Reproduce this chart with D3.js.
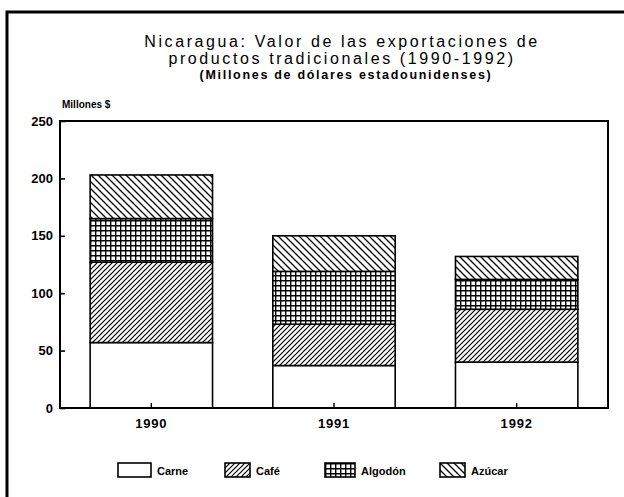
<!DOCTYPE html>
<html>
<head>
<meta charset="utf-8">
<script src="https://cdn.jsdelivr.net/npm/d3@7"></script>
<style>
  body { margin: 0; background: #fff; }
  svg { display: block; }
  text { fill: #000; }
</style>
</head>
<body>
<svg id="chart" width="624" height="497"></svg>
<script>
// datos
const years = ["1990", "1991", "1992"]
const series = ["Carne", "Café", "Algodón", "Azúcar"]
const carne = [57, 37, 40]
const cafe = [70, 36, 46]
const algodon = [38, 46, 26]
const azucar = [38, 31, 20]
const yTicks = [0, 50, 100, 150, 200, 250]

let width = 624
let height = 497
let margin = { top: 121, right: 16, bottom: 89, left: 60 }
const font = "'Liberation Sans', Arial, sans-serif"

let svg = d3.select("#chart")
let defs = svg.append("defs")

// patrones de relleno
function hatch(id, size, draw) {
    let p = defs.append("pattern")
        .attr("id", id)
        .attr("patternUnits", "userSpaceOnUse")
        .attr("width", size).attr("height", size)
    p.append("rect").attr("width", size).attr("height", size).attr("fill", "#fff")
    draw(p, size)
}
hatch("pCafe", 5, function (p, s) {
    p.append("path").attr("d", "M0," + s + "L" + s + ",0M-1,1L1,-1M" + (s - 1) + "," + (s + 1) + "L" + (s + 1) + "," + (s - 1))
        .attr("stroke", "#000").attr("stroke-width", 1.2)
})
hatch("pAlgodon", 5, function (p, s) {
    p.append("path").attr("d", "M0,0L" + s + ",0M0,0L0," + s)
        .attr("stroke", "#000").attr("stroke-width", 2.8)
})
hatch("pAzucar", 7, function (p, s) {
    p.append("path").attr("d", "M0,0L" + s + "," + s + "M-1," + (s - 1) + "L1," + (s + 1) + "M" + (s - 1) + ",-1L" + (s + 1) + ",1")
        .attr("stroke", "#000").attr("stroke-width", 1.3)
})
const fills = ["#fff", "url(#pCafe)", "url(#pAlgodon)", "url(#pAzucar)"]

// marco recortado (solo arriba e izquierda)
svg.append("path")
    .attr("d", "M7,497L7,12L624,12")
    .attr("fill", "none").attr("stroke", "#000").attr("stroke-width", 3)

// titulo
let title = svg.append("g").attr("text-anchor", "middle")
    .style("font-family", font)
title.append("text").attr("x", 342).attr("y", 47)
    .style("font-size", "16px").style("letter-spacing", "2.6px")
    .text("Nicaragua: Valor de las exportaciones de")
title.append("text").attr("x", 342).attr("y", 64)
    .style("font-size", "16px").style("letter-spacing", "2.6px")
    .text("productos tradicionales (1990-1992)")
title.append("text").attr("x", 346).attr("y", 79)
    .style("font-size", "12.5px").style("font-weight", "bold").style("letter-spacing", "1.7px")
    .text("(Millones de dólares estadounidenses)")

svg.append("text").attr("x", 62).attr("y", 108)
    .style("font-family", font)
    .style("font-size", "10px").style("font-weight", "bold")
    .text("Millones $")

let xScale = d3.scaleBand()
    .domain(years)
    .range([margin.left, width - margin.right])
    .paddingInner(0.33).paddingOuter(0.165)

let yScale = d3.scaleLinear()
    .domain([0, 250])
    .range([height - margin.bottom, margin.top])

// apilado
let table = years.map(function (y, i) {
    return { year: y, "Carne": carne[i], "Café": cafe[i], "Algodón": algodon[i], "Azúcar": azucar[i] }
})
let stacked = d3.stack().keys(series)(table)

svg.append("g").selectAll("g")
    .data(stacked)
    .join("g")
    .attr("fill", function (d, i) { return fills[i] })
    .selectAll("rect")
    .data(function (d) { return d })
    .join("rect")
    .attr("x", function (d) { return xScale(d.data.year) })
    .attr("width", xScale.bandwidth())
    .attr("y", function (d) { return yScale(d[1]) })
    .attr("height", function (d) { return yScale(d[0]) - yScale(d[1]) })
    .attr("stroke", "#000").attr("stroke-width", 1.6)

// caja del grafico
svg.append("rect")
    .attr("x", margin.left).attr("y", margin.top)
    .attr("width", width - margin.left - margin.right)
    .attr("height", height - margin.top - margin.bottom)
    .attr("fill", "none").attr("stroke", "#000").attr("stroke-width", 2)

// ejes
let yAxis = svg.append("g")
    .attr("transform", "translate(" + margin.left + ",0)")
    .call(d3.axisRight(yScale).tickValues(yTicks).tickSize(5).tickFormat(d3.format("d")))
yAxis.select(".domain").remove()
yAxis.selectAll("line").attr("stroke-width", 1.6)
yAxis.selectAll("text")
    .attr("x", -7).attr("text-anchor", "end")
    .style("font-family", font)
    .style("font-size", "13px").style("font-weight", "bold")

let xAxis = svg.append("g")
    .attr("transform", "translate(0," + (height - margin.bottom) + ")")
    .call(d3.axisTop(xScale).tickSize(5))
xAxis.select(".domain").remove()
xAxis.selectAll("line").attr("stroke-width", 1.4)
xAxis.selectAll("text")
    .attr("y", 16).attr("dy", "0.32em")
    .style("font-family", font)
    .style("font-size", "13px").style("font-weight", "bold").style("letter-spacing", "0.8px")

// leyenda
const legendX = [118, 225, 325, 440]
const legendW = [33, 25, 30, 25]
let legend = svg.append("g").selectAll("g")
    .data(series)
    .join("g")
    .attr("transform", function (d, i) { return "translate(" + legendX[i] + ",463)" })
legend.append("rect")
    .attr("width", function (d, i) { return legendW[i] })
    .attr("height", 14)
    .attr("fill", function (d, i) { return fills[i] })
    .attr("stroke", "#000").attr("stroke-width", 1.6)
legend.append("text")
    .attr("x", function (d, i) { return legendW[i] + 6 })
    .attr("y", 8).attr("dy", "0.35em")
    .style("font-family", font)
    .style("font-size", "11px").style("font-weight", "bold")
    .text(function (d) { return d })
</script>
</body>
</html>
